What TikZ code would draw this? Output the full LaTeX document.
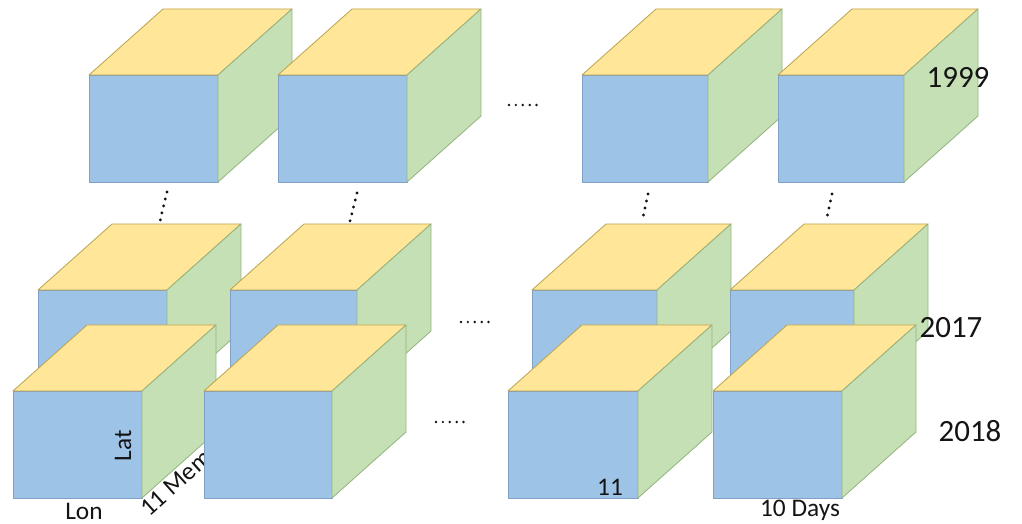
\documentclass[tikz,border=0pt]{standalone}
\usepackage{fontspec}
\setmainfont{Carlito}
\usepackage{xcolor}
\usepackage{tikz}
\usetikzlibrary{calc}
\definecolor{frontFill}{RGB}{157,195,230}
\definecolor{topFill}{RGB}{255,230,153}
\definecolor{sideFill}{RGB}{197,224,180}
\definecolor{frontLine}{RGB}{128,160,200}
\definecolor{topLine}{RGB}{190,165,80}
\definecolor{sideLine}{RGB}{150,180,130}
\definecolor{ink}{RGB}{20,20,20}
\tikzset{
  frontFace/.style={fill=frontFill, draw=frontLine, line width=0.6pt, line join=round},
  topFace/.style={fill=topFill, draw=topLine, line width=0.6pt, line join=round},
  sideFace/.style={fill=sideFill, draw=sideLine, line width=0.6pt, line join=round},
  dotGap/.style={draw=ink, line width=2.3pt, line cap=round, dash pattern=on 0pt off 5.1pt},
  dotRow/.style={draw=ink, line width=1.9pt, line cap=round, dash pattern=on 0pt off 4.9pt},
  yearLabel/.style={font=\fontsize{22}{24}\selectfont, text=ink, inner sep=0pt},
  axisLabel/.style={font=\fontsize{18}{20}\selectfont, text=ink, inner sep=0pt}
}
% cube: front top-left corner (x,y) in pixels, front width, name
\newcommand{\drawCube}[4]{
  \coordinate (#4) at (#1,#2);
  \draw[frontFace] (#4) rectangle ++(#3,107);
  \draw[topFace] (#4) -- ++(74,-66) -- ++(#3,0) -- ++(-74,66) -- cycle;
  \draw[sideFace] ({#1+#3},#2) -- ++(74,-66) -- ++(0,107) -- ++(-74,66) -- cycle;
}

\begin{document}
\begin{tikzpicture}[x=0.025cm, y=-0.025cm]
  \useasboundingbox (0,0) rectangle (1022,524);

  % 1999 row
  \drawCube{89}{75}{129}{cubeAa}
  \drawCube{278}{75}{129}{cubeAb}
  \drawCube{582}{75}{126}{cubeAc}
  \drawCube{778}{75}{126}{cubeAd}

  % 2017 row
  \drawCube{38}{290}{129}{cubeBa}
  \drawCube{230}{290}{127}{cubeBb}
  \drawCube{532}{290}{125}{cubeBc}
  \drawCube{730}{290}{124}{cubeBd}

  % 2018 row
  \drawCube{13}{391}{129}{cubeCa}
  \node[axisLabel, rotate=41.7] (members) at (176,483) {11 Mem};
  \drawCube{204}{391}{128}{cubeCb}
  \drawCube{508}{391}{130}{cubeCc}
  \drawCube{713}{391}{129}{cubeCd}

  % dots between the years
  \coordinate (gapAaTop) at (167,192);
  \coordinate (gapAaBot) at (160,221);
  \coordinate (gapAbTop) at (357,193);
  \coordinate (gapAbBot) at (350,221);
  \coordinate (gapAcTop) at (648,194);
  \coordinate (gapAcBot) at (642,222);
  \coordinate (gapAdTop) at (832,194);
  \coordinate (gapAdBot) at (826,222);
  \draw[dotGap] (gapAaTop) -- (gapAaBot);
  \draw[dotGap] (gapAbTop) -- (gapAbBot);
  \draw[dotGap] (gapAcTop) -- (gapAcBot);
  \draw[dotGap] (gapAdTop) -- (gapAdBot);

  % dots between the cubes of a row
  \coordinate (rowAl) at (509,105);
  \coordinate (rowAr) at (538,105);
  \coordinate (rowBl) at (461,322);
  \coordinate (rowBr) at (489,322);
  \coordinate (rowCl) at (436,422);
  \coordinate (rowCr) at (464,422);
  \draw[dotRow] (rowAl) -- (rowAr);
  \draw[dotRow] (rowBl) -- (rowBr);
  \draw[dotRow] (rowCl) -- (rowCr);

  \node[yearLabel] (yearA) at (958,77) {1999};
  \node[yearLabel] (yearB) at (951,328) {2017};
  \node[yearLabel] (yearC) at (970,431) {2018};

  \node[axisLabel] (lon) at (84,511) {Lon};
  \node[axisLabel, rotate=90] (lat) at (123,446) {Lat};
  \node[axisLabel] (days) at (800,510) {10 Days};
  \node[axisLabel] (eleven) at (610,487) {11};
\end{tikzpicture}
\end{document}
